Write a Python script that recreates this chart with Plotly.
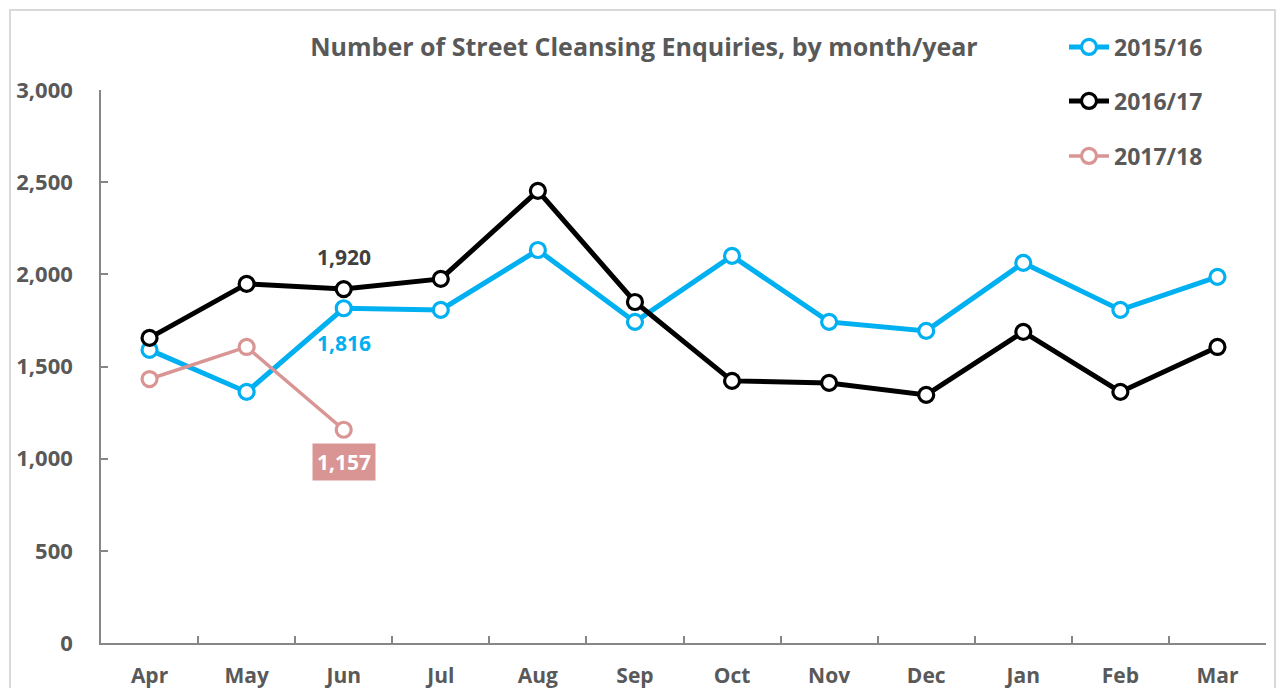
import plotly.graph_objects as go

months = ["Apr", "May", "Jun", "Jul", "Aug", "Sep", "Oct", "Nov", "Dec", "Jan", "Feb", "Mar"]
y2015 = [1590, 1362, 1816, 1807, 2132, 1742, 2100, 1742, 1693, 2062, 1807, 1986]
y2016 = [1655, 1948, 1920, 1975, 2453, 1850, 1422, 1411, 1346, 1688, 1362, 1606]
y2017 = [1432, 1606, 1157]
names = ["2015/16", "2016/17", "2017/18"]
yticks = [0, 500, 1000, 1500, 2000, 2500, 3000]

FONT = "Open Sans"
GREY = "#595959"
BLUE = "#00B0F0"
BLACK = "#000000"
PINK = "#D99594"

# plot area in pixels
L, R, T, B = 101, 1266, 90, 643
W, H = 1276, 688

def px_x(p):
    return (p - L) / (R - L)

def px_y(p):
    return (B - p) / (B - T)

fig = go.Figure()
series = [(y2015, BLUE, 5, "legend"), (y2016, BLACK, 5, "legend2"), (y2017, PINK, 3.5, "legend3")]
for (vals, col, lw, lg), nm in zip(series, names):
    fig.add_trace(go.Scatter(
        x=months[:len(vals)], y=vals, name=nm, mode="lines+markers",
        line=dict(color=col, width=lw),
        marker=dict(symbol="circle", size=15, color="white", line=dict(color=col, width=3.2)),
        legend=lg,
    ))

# data labels
fig.add_annotation(x=months[2], y=y2016[2], text=f"{y2016[2]:,}", showarrow=False,
                   yshift=32, font=dict(family=FONT, size=21, color="#404040", weight="bold"))
fig.add_annotation(x=months[2], y=y2015[2], text=f"{y2015[2]:,}", showarrow=False,
                   yshift=-35, font=dict(family=FONT, size=21, color=BLUE, weight="bold"))
fig.add_annotation(x=months[2], y=y2017[2], text=f"{y2017[2]:,}", showarrow=False,
                   yshift=-32, bgcolor=PINK, borderpad=4,
                   font=dict(family=FONT, size=21, color="white", weight="bold"))

# outer chart border
fig.add_shape(type="rect", xref="paper", yref="paper",
              x0=px_x(10), x1=px_x(1275), y0=px_y(720), y1=px_y(10),
              line=dict(color="#D9D9D9", width=2), layer="below")

legend_base = dict(xref="paper", yref="paper", x=px_x(1064), xanchor="left", yanchor="middle",
                   bgcolor="rgba(0,0,0,0)", font=dict(family=FONT, size=23, color=GREY, weight="bold"),
                   itemwidth=40)

fig.update_layout(
    width=W, height=H,
    margin=dict(l=L, r=W - R, t=T, b=H - B, autoexpand=False),
    paper_bgcolor="white", plot_bgcolor="white",
    title=dict(text="Number of Street Cleansing Enquiries, by month/year",
               xref="container", yref="container", x=644 / W, y=1 - 47 / H,
               xanchor="center", yanchor="middle",
               font=dict(family=FONT, size=25, color=GREY, weight="bold")),
    showlegend=True,
    legend=dict(legend_base, y=px_y(47)),
    legend2=dict(legend_base, y=px_y(101)),
    legend3=dict(legend_base, y=px_y(156)),
    xaxis=dict(type="category", categoryorder="array", categoryarray=months,
               range=[-0.5, 11.5], showgrid=False, showline=True, linecolor="#868686", linewidth=1.5,
               ticks="inside", ticklen=7, tickwidth=1.5, tickcolor="#868686", tickson="boundaries",
               tickfont=dict(family=FONT, size=21, color=GREY, weight="bold"), ticklabelstandoff=13,
               zeroline=False),
    yaxis=dict(range=[0, 3000], tickvals=yticks, ticktext=[f"{v:,}" for v in yticks],
               showgrid=False, showline=True, linecolor="#868686", linewidth=1.5,
               ticks="inside", ticklen=7, tickwidth=1.5, tickcolor="#868686",
               tickfont=dict(family=FONT, size=22, color=GREY, weight="bold"), ticklabelstandoff=22,
               zeroline=False),
)

fig.write_html("out.html")
